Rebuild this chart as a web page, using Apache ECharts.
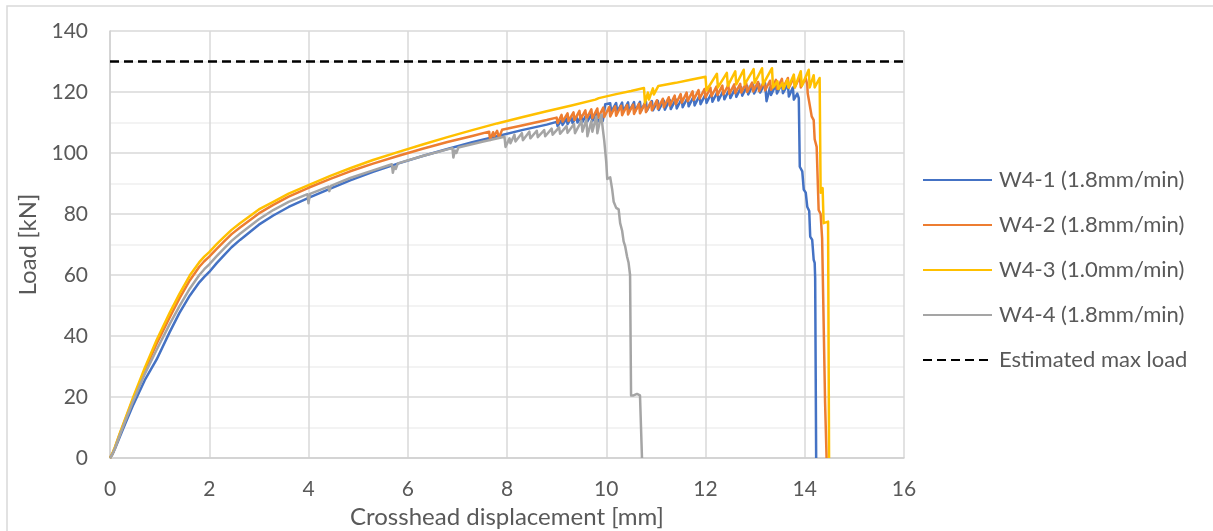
<!DOCTYPE html>
<html>
<head>
<meta charset="utf-8">
<script src="https://cdn.jsdelivr.net/npm/echarts@6/dist/echarts.min.js"></script>
<style>
  html, body { margin: 0; padding: 0; background: #ffffff; }
  #chart { width: 1213px; height: 531px; }
</style>
</head>
<body>
<div id="chart"></div>
<script>
// Load–displacement records, [displacement mm, load kN]
const seriesNames = [
  'W4-1 (1.8mm/min)',
  'W4-2 (1.8mm/min)',
  'W4-3 (1.0mm/min)',
  'W4-4 (1.8mm/min)',
  'Estimated max load'
];

const w41 = [
  [0,0],[0.05,1.2],[0.1,3],[0.2,7],[0.3,11],[0.47,17.5],[0.7,25.5],[0.94,32.3],[1.2,41.2],[1.4,47.6],
  [1.61,53.3],[1.8,57.6],[1.9,59.4],[2.0,61],[2.15,63.9],[2.3,66.5],[2.45,69.1],[2.62,71.5],[3.0,76.5],[3.29,79.5],[3.6,82.3],[4.0,85.3],
  [4.44,88.3],[4.84,91],[5.3,93.8],[5.8,96.5],[6.3,99],[6.8,101.3],[7.3,103.5],[7.8,105.5],[8.3,107.5],
  [8.8,109.3],[9.0,110.2],[9.02,108.8],[9.1,110.8],[9.12,109.2],[9.2,111.3],[9.22,109.5],[9.3,111.6],
  [9.32,109.8],[9.4,111.9],[9.42,110],[9.5,112.2],[9.52,110.2],[9.6,112.5],[9.62,110.4],[9.7,112.7],
  [9.72,110.5],[9.8,112.8],[9.82,110.2],[9.9,111.5],[9.93,110.5],[9.98,116],
  [10.08,116.3],[10.1,113.5],[10.2,116.4],[10.22,113.5],[10.32,116.5],[10.34,113.6],[10.44,116.6],
  [10.46,113.6],[10.56,116.7],[10.58,113.7],[10.68,116.8],[10.7,113.8],[10.8,116.9],[10.82,113.9],
  [10.92,117],[10.94,114],[11.04,117.1],[11.06,114.1],[11.16,117.2],[11.18,114.2],[11.28,117.4],
  [11.3,114.4],[11.4,117.6],[11.42,114.6],[11.52,117.8],[11.54,115],[11.64,118.2],[11.66,115.3],
  [11.76,118.5],[11.78,115.6],[11.88,118.8],[11.9,116],[12.0,119.2],[12.02,116.4],[12.12,119.6],
  [12.14,116.8],[12.24,120],[12.26,117.2],[12.36,120.4],[12.38,117.6],[12.48,120.8],[12.5,118],
  [12.6,121.2],[12.62,118.4],[12.72,121.6],[12.74,118.8],[12.84,122],[12.86,119.2],[12.96,122.4],
  [12.98,119.5],[13.08,122.7],[13.1,119.8],[13.2,122.9],[13.23,117],[13.3,121.5],[13.32,119],
  [13.42,122.5],[13.44,119.5],[13.54,122.8],[13.56,119.6],[13.66,122.6],[13.68,118.5],[13.76,121.5],
  [13.78,117.5],[13.85,119.5],[13.88,118],[13.9,95.5],[13.95,94],[13.98,88],[14.02,87],[14.05,82.4],
  [14.09,81],[14.11,72.6],[14.15,71.5],[14.18,65],[14.2,64],[14.21,59],[14.23,0]
];

const w42 = [
  [0,0],[0.05,1.5],[0.1,3.4],[0.2,8],[0.3,12.2],[0.47,19.5],[0.7,28.8],[0.94,37.5],[1.2,46],[1.4,52.3],
  [1.61,58.3],[1.8,62.7],[1.9,64.5],[2.0,66],[2.15,68.6],[2.3,71],[2.45,73.4],[2.62,75.6],[3.0,80.2],[3.29,83],[3.6,85.7],[4.0,88.6],
  [4.44,91.5],[4.84,94],[5.3,96.5],[5.8,99],[6.3,101.4],[6.8,103.6],[7.3,105.6],[7.64,107],[7.66,104.3],
  [7.72,106.8],[7.74,105.5],[7.8,107.3],[7.84,105],[7.9,107.6],[8.3,109],[8.8,110.8],[9.0,111.6],
  [9.02,109.8],[9.1,112.5],[9.12,110.3],[9.22,113],[9.24,110.5],[9.34,113.3],[9.36,110.8],[9.46,113.8],
  [9.48,111],[9.58,114],[9.6,111.2],[9.7,114.3],[9.72,111.4],[9.82,114.6],[9.84,111.6],[9.94,114.9],
  [9.96,111.8],[10.06,115.1],[10.08,112],[10.18,115.3],[10.2,112.2],[10.3,115.5],[10.32,112.4],
  [10.42,115.7],[10.44,112.6],[10.54,115.9],[10.56,112.8],[10.66,116.1],[10.68,113],[10.78,116.4],
  [10.8,113.4],[10.9,116.8],[10.92,114],[11.02,117.3],[11.04,114.5],[11.14,117.8],[11.16,115],
  [11.26,118.3],[11.28,115.5],[11.38,118.8],[11.4,116],[11.5,119.3],[11.52,116.5],[11.62,119.8],
  [11.64,117],[11.74,120.2],[11.76,117.4],[11.86,120.6],[11.88,117.8],[11.98,121],[12.0,118.2],
  [12.1,121.4],[12.12,118.6],[12.22,121.8],[12.24,119],[12.34,122.1],[12.36,119.2],[12.46,122.3],
  [12.48,119.4],[12.58,122.5],[12.6,119.6],[12.7,122.7],[12.72,119.8],[12.82,122.9],[12.84,120],
  [12.94,123.1],[12.96,120.2],[13.06,123.3],[13.08,120.3],[13.18,123.5],[13.2,120.5],[13.3,123.7],
  [13.32,120.7],[13.42,124],[13.44,121],[13.54,124.3],[13.56,121.2],[13.66,124.6],[13.68,121.4],
  [13.78,124.8],[13.8,121.5],[13.9,125],[13.92,121.5],[14.02,124.5],[14.05,122.5],[14.06,119.5],
  [14.1,120],[14.14,112],[14.18,110.8],[14.2,104.5],[14.24,102],[14.28,81.3],[14.32,80],[14.35,72],
  [14.38,71.5],[14.41,18],[14.43,18],[14.44,0]
];

const w43 = [
  [0,0],[0.05,1.6],[0.1,3.6],[0.2,8.2],[0.3,12.6],[0.47,20],[0.7,29.5],[0.94,38.7],[1.2,47.5],[1.4,53.8],
  [1.61,59.9],[1.8,64.2],[1.9,66],[2.0,67.5],[2.15,70.1],[2.3,72.5],[2.45,74.8],[2.62,77],[3.0,81.5],[3.29,84],[3.6,86.7],[4.0,89.5],
  [4.44,92.5],[4.84,95],[5.3,97.7],[5.8,100.3],[6.3,102.8],[6.8,105.2],[7.3,107.5],[7.8,109.7],
  [8.3,111.7],[8.8,113.7],[9.3,115.6],[9.78,117.5],[9.81,117],[9.85,118],[10.2,119.3],[10.5,120.3],
  [10.76,121.3],[10.78,116.5],[10.84,119.8],[10.86,117.5],[10.94,121.2],[10.96,119.2],[11.05,122],
  [11.4,123],[11.7,124],[12.0,125],[12.02,120.5],[12.23,126],[12.25,121.5],[12.43,126.3],[12.45,122],
  [12.6,126.8],[12.62,122.5],[12.77,127.3],[12.79,122.5],[12.97,127.5],[12.99,123],[13.14,127.8],
  [13.16,122.5],[13.34,127.8],[13.36,121.5],[13.45,123.5],[13.47,121],[13.55,123],[13.57,121],
  [13.65,124],[13.67,121.5],[13.78,125.7],[13.8,121.5],[13.92,126.8],[13.94,122],[14.08,127.3],
  [14.1,121.5],[14.18,125.5],[14.2,121.5],[14.3,124.6],[14.32,87],[14.36,88.5],[14.38,77],
  [14.47,77.5],[14.49,0]
];

const w44 = [
  [0,0],[0.05,1.3],[0.1,3.2],[0.2,7.6],[0.3,11.8],[0.47,18.8],[0.7,27.5],[0.94,35.5],[1.2,43.8],
  [1.4,49.8],[1.61,55.6],[1.8,60],[1.9,61.9],[2.0,63.5],[2.15,66.2],[2.3,68.7],[2.45,71.2],[2.62,73.5],[3.0,78.3],[3.29,81.3],[3.6,84],
  [3.98,86.5],[4.0,83.5],[4.03,86.6],[4.4,89],[4.42,87.5],[4.45,89.2],[4.84,91.8],[5.3,94.3],
  [5.68,96.3],[5.7,93.5],[5.73,95.5],[5.76,94.8],[5.8,96.6],[6.3,99],[6.8,101.2],[6.9,101.6],
  [6.92,98.5],[6.95,100.8],[6.98,100],[7.02,101.8],[7.5,103.7],[7.95,105.3],[7.97,102],[8.05,104.8],
  [8.07,103.2],[8.15,106],[8.17,103.8],[8.3,106.5],[8.32,104.2],[8.45,107],[8.47,104.8],[8.6,107.3],
  [8.62,105.2],[8.75,107.5],[8.77,105.5],[8.9,108],[8.92,106],[9.05,108.4],[9.07,106.3],[9.2,108.8],
  [9.22,106.6],[9.35,109.5],[9.37,106.5],[9.5,110.5],[9.52,107],[9.6,111],[9.62,105.5],[9.7,110.5],
  [9.72,107],[9.8,112],[9.82,106.5],[9.9,112.5],[9.93,108],[9.96,104],[10.0,97],[10.02,91.5],
  [10.08,92],[10.12,88],[10.15,84],[10.2,82],[10.25,81.5],[10.28,77],[10.32,74.5],[10.35,71],
  [10.38,69.5],[10.42,66],[10.45,64],[10.48,60],[10.5,20.5],[10.55,20.5],[10.62,21],[10.68,20.5],
  [10.72,0]
];

const maxLoad = [[0,130],[16,130]];

const xTicks = { min: 0, max: 16, step: 2 };
const yTicks = { min: 0, max: 140, step: 20 };

const colors = ['#4472C4', '#ED7D31', '#FFC000', '#A5A5A5', '#000000'];
const textColor = '#595959';
const font = 'Lato, "Open Sans", sans-serif';

const chart = echarts.init(document.getElementById('chart'), null, { renderer: 'canvas' });

function lineSeries(name, data, color, extra) {
  return Object.assign({
    name: name,
    type: 'line',
    data: data,
    symbol: 'none',
    animation: false,
    lineStyle: { color: color, width: 2.5, join: 'round' },
    itemStyle: { color: color }
  }, extra || {});
}

chart.setOption({
  backgroundColor: '#ffffff',
  animation: false,
  color: colors,
  graphic: [{
    type: 'rect',
    shape: { x: 7, y: 6, width: 1220, height: 540 },
    style: { fill: 'none', stroke: '#d9d9d9', lineWidth: 1.5 },
    silent: true,
    z: -1
  }],
  grid: {
    left: 110, top: 31, right: 309, bottom: 73,
    containLabel: false,
    outerBoundsMode: 'none'
  },
  legend: {
    orient: 'vertical',
    left: 922,
    top: 169,
    padding: 0,
    itemWidth: 69,
    itemHeight: 20,
    itemGap: 23,
    data: seriesNames,
    itemStyle: { opacity: 0 },
    textStyle: { color: textColor, fontSize: 22, fontFamily: font, padding: [0, 0, 0, 2] }
  },
  xAxis: {
    type: 'value',
    min: xTicks.min,
    max: xTicks.max,
    interval: xTicks.step,
    name: 'Crosshead displacement [mm]',
    nameLocation: 'middle',
    nameGap: 45,
    nameTextStyle: { color: textColor, fontSize: 24, fontFamily: font },
    axisLine: { show: true, onZero: false, lineStyle: { color: '#d0d0d0', width: 1.5 } },
    axisTick: { show: false },
    axisLabel: { color: textColor, fontSize: 21, fontFamily: font, margin: 21 },
    splitLine: { show: true, lineStyle: { color: '#d9d9d9', width: 1.5 } }
  },
  yAxis: {
    type: 'value',
    min: yTicks.min,
    max: yTicks.max,
    interval: yTicks.step,
    name: 'Load [kN]',
    nameLocation: 'middle',
    nameGap: 64,
    nameRotate: 90,
    nameTextStyle: { color: textColor, fontSize: 24, fontFamily: font },
    axisLine: { show: true, lineStyle: { color: '#d0d0d0', width: 1.5 } },
    axisTick: { show: false },
    axisLabel: { color: textColor, fontSize: 21, fontFamily: font, margin: 22 },
    splitLine: { show: true, lineStyle: { color: '#d9d9d9', width: 1.5 } },
    minorTick: { show: false, splitNumber: 2 },
    minorSplitLine: { show: true, lineStyle: { color: '#efefef', width: 1.5 } }
  },
  series: [
    lineSeries(seriesNames[0], w41, colors[0]),
    lineSeries(seriesNames[1], w42, colors[1]),
    lineSeries(seriesNames[2], w43, colors[2]),
    lineSeries(seriesNames[3], w44, colors[3]),
    lineSeries(seriesNames[4], maxLoad, colors[4], {
      lineStyle: { color: '#000000', width: 2.5, type: [9, 5] }
    })
  ]
});
</script>
</body>
</html>
